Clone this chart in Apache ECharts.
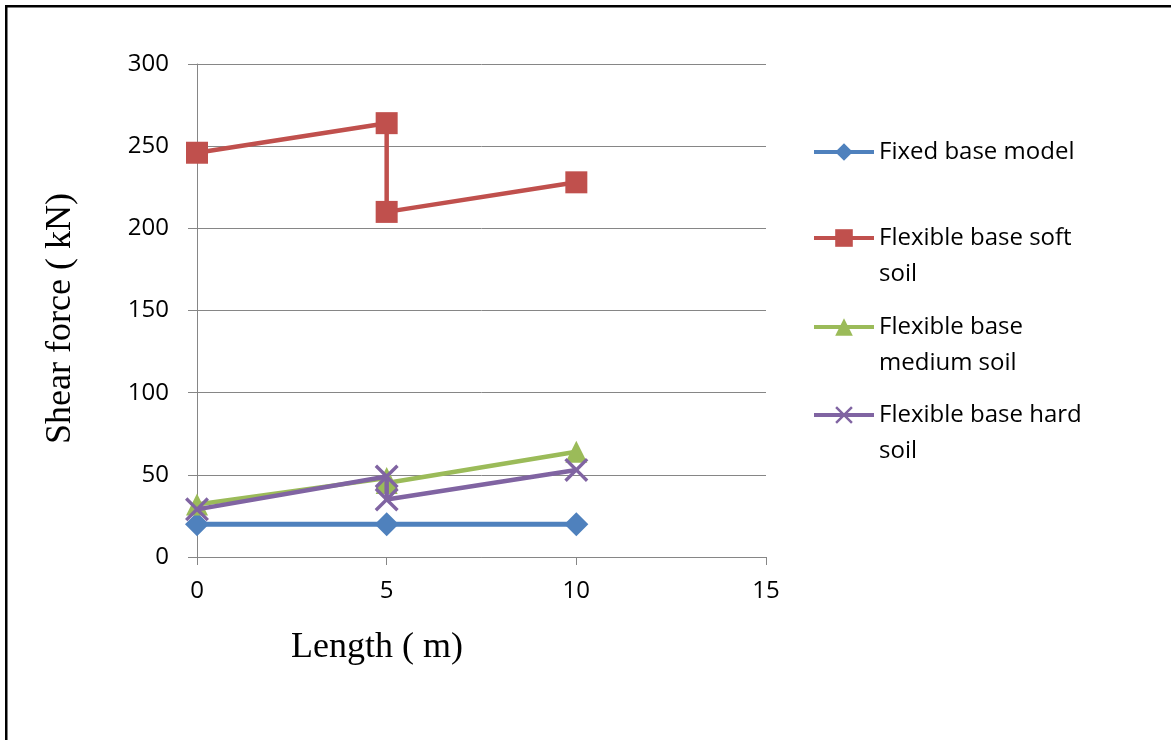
<!DOCTYPE html>
<html>
<head>
<meta charset="utf-8">
<script src="https://cdn.jsdelivr.net/npm/echarts@6/dist/echarts.min.js"></script>
<style>
  html, body { margin: 0; padding: 0; background: #fff; }
  #chart { width: 1171px; height: 740px; }
</style>
</head>
<body>
<div id="chart"></div>
<script>
// x positions (m) and shear force values (kN)
const lengthFixed = [0, 5, 10];
const fixedBase = [20, 20, 20];
const lengthFlex = [0, 5, 5, 10];
const softSoil = [246, 264, 210, 228];
const mediumSoil = [32, 48, 45, 64];
const hardSoil = [29, 49, 35, 53];

const seriesNames = ['Fixed base model', 'Flexible base soft soil', 'Flexible base medium soil', 'Flexible base hard soil'];
// legend text wraps like the original; a blank first line keeps the icon beside the first text line
const legendLabels = {
  'Fixed base model': 'Fixed base model',
  'Flexible base soft soil': ' \nFlexible base soft\nsoil',
  'Flexible base medium soil': ' \nFlexible base\nmedium soil',
  'Flexible base hard soil': ' \nFlexible base hard\nsoil'
};

const xMin = 0, xMax = 15, xStep = 5;
const yMin = 0, yMax = 300, yStep = 50;

const crossPath = 'path://M0,1L1,0L5,4L9,0L10,1L6,5L10,9L9,10L5,6L1,10L0,9L4,5Z';
const axisGray = '#868686';
const sansFont = "'Open Sans', 'Noto Sans', sans-serif";
const serifFont = "'Liberation Serif', 'DejaVu Serif', serif";

function pairs(xs, ys) {
  return xs.map((x, i) => [x, ys[i]]);
}

function makeLegend(name, top) {
  return {
    data: [name],
    left: 812,
    top: top,
    orient: 'vertical',
    padding: 0,
    itemWidth: 60,
    itemHeight: 22,
    selectedMode: false,
    lineStyle: { width: 4 },
    formatter: n => legendLabels[n],
    textStyle: {
      fontFamily: sansFont,
      fontSize: 24,
      lineHeight: 36,
      color: '#000'
    }
  };
}

const chart = echarts.init(document.getElementById('chart'));

const option = {
  backgroundColor: '#fff',
  animation: false,
  graphic: [
    { type: 'rect', shape: { x: 5, y: 5, width: 1166, height: 2.5 }, style: { fill: '#000' } },
    { type: 'rect', shape: { x: 5, y: 5, width: 2.5, height: 735 }, style: { fill: '#000' } }
  ],
  grid: {
    left: 197,
    top: 64,
    right: 405,
    bottom: 183
  },
  legend: [
    makeLegend(seriesNames[0], 134),
    makeLegend(seriesNames[1], 184),
    makeLegend(seriesNames[2], 273),
    makeLegend(seriesNames[3], 361)
  ],
  xAxis: {
    type: 'value',
    min: xMin,
    max: xMax,
    interval: xStep,
    name: 'Length ( m)',
    nameLocation: 'middle',
    nameGap: 73,
    nameTextStyle: {
      fontFamily: serifFont,
      fontSize: 36,
      color: '#000',
      padding: [0, 209, 0, 0]
    },
    axisLine: { show: true, onZero: false, lineStyle: { color: axisGray, width: 1 } },
    axisTick: { show: true, length: 8, lineStyle: { color: axisGray } },
    axisLabel: { fontFamily: sansFont, fontSize: 24, color: '#000', margin: 22 },
    splitLine: { show: false }
  },
  yAxis: {
    type: 'value',
    min: yMin,
    max: yMax,
    interval: yStep,
    name: 'Shear force ( kN)',
    nameLocation: 'middle',
    nameGap: 118,
    nameTextStyle: {
      fontFamily: serifFont,
      fontSize: 36,
      color: '#000',
      padding: [0, 16, 0, 0]
    },
    axisLine: { show: true, lineStyle: { color: axisGray, width: 1 } },
    axisTick: { show: true, length: 9, lineStyle: { color: axisGray } },
    axisLabel: { fontFamily: sansFont, fontSize: 24, color: '#000', margin: 28 },
    splitLine: { show: true, lineStyle: { color: axisGray, width: 1 } }
  },
  series: [
    {
      name: seriesNames[0],
      type: 'line',
      data: pairs(lengthFixed, fixedBase),
      symbol: 'diamond',
      symbolSize: 24,
      lineStyle: { color: '#4F81BD', width: 5 },
      itemStyle: { color: '#4F81BD' },
      z: 2
    },
    {
      name: seriesNames[1],
      type: 'line',
      data: pairs(lengthFlex, softSoil),
      symbol: 'rect',
      symbolSize: 22,
      lineStyle: { color: '#C0504D', width: 4.5 },
      itemStyle: { color: '#C0504D' },
      z: 3
    },
    {
      name: seriesNames[2],
      type: 'line',
      data: pairs(lengthFlex, mediumSoil),
      symbol: 'triangle',
      symbolSize: 22,
      lineStyle: { color: '#9BBB59', width: 4.5 },
      itemStyle: { color: '#9BBB59' },
      z: 4
    },
    {
      name: seriesNames[3],
      type: 'line',
      data: pairs(lengthFlex, hardSoil),
      symbol: crossPath,
      symbolSize: 24,
      lineStyle: { color: '#8064A2', width: 4.5 },
      itemStyle: { color: '#8064A2' },
      z: 5
    }
  ]
};

chart.setOption(option);
</script>
</body>
</html>
